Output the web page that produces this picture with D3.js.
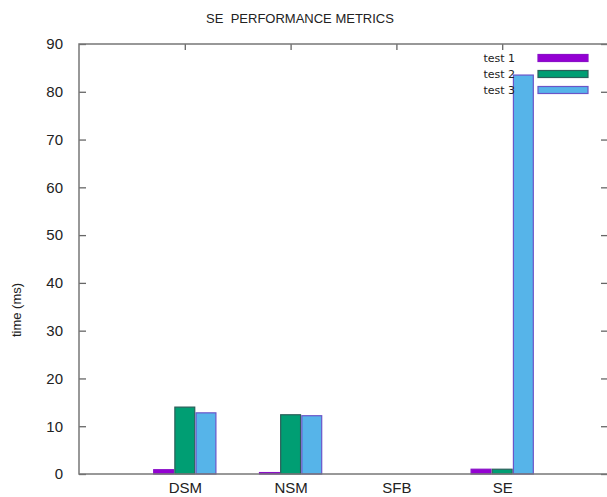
<!DOCTYPE html>
<html>
<head>
<meta charset="utf-8">
<script src="https://cdn.jsdelivr.net/npm/d3@7"></script>
<style>
  body { margin: 0; background: #fff; }
  text { font-family: "Liberation Sans", Arial, sans-serif; fill: #222; }
</style>
</head>
<body>
<svg id="chart"></svg>
<script>
// values
const categories = ["DSM", "NSM", "SFB", "SE"];
const test1 = [0.9, 0.3, 0, 1.0];
const test2 = [14.0, 12.4, 0, 1.0];
const test3 = [12.8, 12.2, 0, 83.5];
const seriesNames = ["test 1", "test 2", "test 3"];
const yTicks = [0, 10, 20, 30, 40, 50, 60, 70, 80, 90];

const width = 607, height = 497;
const plotLeft = 79, plotRight = 608, plotTop = 44, plotBottom = 474;

const fills = ["#9400d3", "#009e73", "#56b4e9"];
const strokes = ["#8a10c8", "#2b5f5a", "#6a55c8"];

let svg = d3.select("#chart").attr("width", width).attr("height", height);
svg.append("rect").attr("width", width).attr("height", height).attr("fill", "#fff");

let x = d3.scaleLinear().domain([-1, 4]).range([plotLeft, plotRight]);
let y = d3.scaleLinear().domain([0, 90]).range([plotBottom, plotTop]);

const slot = 0.2; // gnuplot clustered histogram, gap 2
const series = [test1, test2, test3];

// bars
series.forEach((vals, s) => {
  svg.append("g")
    .selectAll("rect")
    .data(vals.map((v, i) => ({ v: v, i: i })).filter(d => d.v > 0))
    .enter()
    .append("rect")
    .attr("x", d => x(d.i + (s - 1) * slot - slot * 0.47))
    .attr("width", x(slot * 0.94) - x(0))
    .attr("y", d => y(d.v))
    .attr("height", d => y(0) - y(d.v))
    .attr("fill", fills[s])
    .attr("stroke", strokes[s])
    .attr("stroke-width", 1.2);
});

// y axis left
let yAxis = d3.axisLeft(y).tickValues(yTicks).tickSize(-7).tickPadding(16);
let gy = svg.append("g").attr("transform", "translate(" + plotLeft + ",0)").call(yAxis);
gy.select(".domain").remove();
gy.selectAll("line").attr("stroke", "#666").attr("stroke-width", 1.3);
gy.selectAll("text").style("font-size", "15px").attr("fill", "#222");

// y axis right (mirror ticks)
let gy2 = svg.append("g").attr("transform", "translate(" + plotRight + ",0)")
  .call(d3.axisRight(y).tickValues(yTicks).tickSize(-7).tickFormat(""));
gy2.select(".domain").remove();
gy2.selectAll("line").attr("stroke", "#666").attr("stroke-width", 1.3);

// x axis labels (bottom)
let xAxis = d3.axisBottom(x).tickValues(d3.range(categories.length))
  .tickFormat(i => categories[i]).tickSize(0).tickPadding(8);
let gx = svg.append("g").attr("transform", "translate(0," + plotBottom + ")").call(xAxis);
gx.select(".domain").remove();
gx.selectAll("text").style("font-size", "15px").attr("fill", "#222");

// top mirror ticks
let gx2 = svg.append("g").attr("transform", "translate(0," + plotTop + ")")
  .call(d3.axisTop(x).tickValues(d3.range(categories.length)).tickSize(-6).tickFormat(""));
gx2.select(".domain").remove();
gx2.selectAll("line").attr("stroke", "#666").attr("stroke-width", 1.3);

// border
svg.append("rect")
  .attr("x", plotLeft).attr("y", plotTop)
  .attr("width", plotRight - plotLeft).attr("height", plotBottom - plotTop)
  .attr("fill", "none").attr("stroke", "#777").attr("stroke-width", 1.5);

// title (double space kept)
svg.append("text")
  .attr("x", 300).attr("y", 23)
  .attr("text-anchor", "middle")
  .style("font-size", "13px")
  .style("white-space", "pre")
  .text("SE  PERFORMANCE METRICS");

// y label
svg.append("text")
  .attr("transform", "translate(21,310) rotate(-90)")
  .attr("text-anchor", "middle")
  .style("font-size", "13px")
  .text("time (ms)");

// legend
let legend = svg.append("g");
seriesNames.forEach((name, s) => {
  let cy = 58 + s * 16;
  legend.append("text")
    .attr("x", 515).attr("y", cy + 4)
    .attr("text-anchor", "end")
    .style("font-family", "DejaVu Sans, sans-serif")
    .style("font-size", "11px")
    .text(name);
  legend.append("rect")
    .attr("x", 538).attr("y", cy - 3.5)
    .attr("width", 50).attr("height", 7)
    .attr("fill", fills[s])
    .attr("stroke", strokes[s])
    .attr("stroke-width", 1.2);
});
</script>
</body>
</html>
